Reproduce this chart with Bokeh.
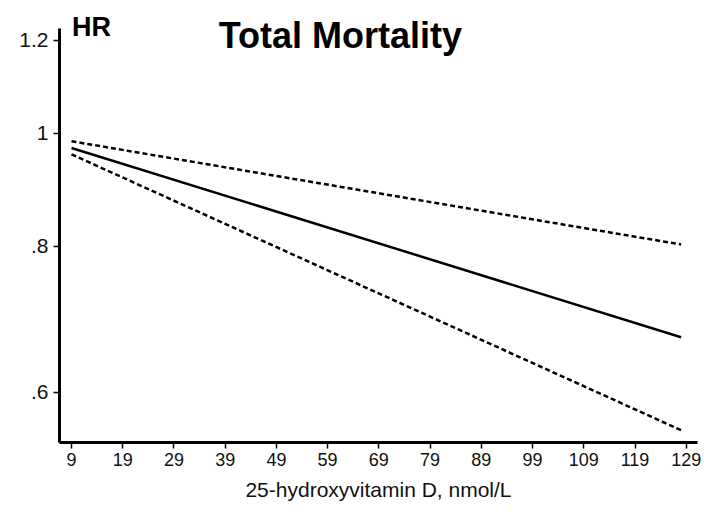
from bokeh.plotting import figure
from bokeh.models import Range1d, FixedTicker, Label
from bokeh.embed import file_html
from bokeh.resources import INLINE

# Data
vitd = [9, 128]
hr = [0.971, 0.669]
upper = [0.984, 0.803]
lower = [0.959, 0.557]

x_ticks = [9, 19, 29, 39, 49, 59, 69, 79, 89, 99, 109, 119, 129]
y_ticks = [0.6, 0.8, 1.0, 1.2]
y_tick_labels = [".6", ".8", "1", "1.2"]

FONT = "Liberation Sans"
Y_LO, Y_HI, Y_TOP = 0.5437, 1.229, 1.273

p = figure(width=704, height=513, output_backend="svg", toolbar_location=None,
           y_axis_type="log", title=None,
           x_range=Range1d(6.66, 131.2), y_range=Range1d(Y_LO, Y_TOP),
           min_border_left=59, min_border_right=7, min_border_top=10, min_border_bottom=71)
p.outline_line_color = None
p.grid.visible = False
p.background_fill_color = "white"
p.border_fill_color = "white"

p.line(vitd, hr, line_color="black", line_width=2.5)
p.line(vitd, upper, line_color="black", line_width=2.5, line_dash="5 3")
p.line(vitd, lower, line_color="black", line_width=2.5, line_dash="5 3")

for ax in (p.xaxis[0], p.yaxis[0]):
    ax.axis_line_width = 3
    ax.axis_line_color = "black"
    ax.major_tick_line_width = 1.5
    ax.major_tick_line_color = "black"
    ax.major_tick_in = 0
    ax.major_tick_out = 6
    ax.minor_tick_line_color = None
    ax.major_label_text_font = FONT
    ax.major_label_text_color = "#111111"

p.xaxis.major_label_text_font_size = "18px"
p.yaxis.major_label_text_font_size = "21px"

p.xaxis.ticker = FixedTicker(ticks=x_ticks)
p.xaxis.major_label_standoff = 4
p.xaxis.axis_label = "25-hydroxyvitamin D, nmol/L"
p.xaxis.axis_label_text_font = FONT
p.xaxis.axis_label_text_font_size = "21px"
p.xaxis.axis_label_text_font_style = "normal"
p.xaxis.axis_label_text_color = "#111111"
p.xaxis.axis_label_standoff = 9

p.yaxis.ticker = FixedTicker(ticks=y_ticks)
p.yaxis.bounds = (Y_LO, Y_HI)
p.yaxis.major_label_overrides = {t: l for t, l in zip(y_ticks, y_tick_labels)}
p.yaxis.major_label_standoff = 5

p.add_layout(Label(x=61.5, y=1.213, text="Total Mortality", text_font=FONT,
                   text_font_size="36px", text_font_style="bold", text_color="black",
                   text_align="center", text_baseline="middle"))
p.add_layout(Label(x=12.9, y=1.232, text="HR", text_font=FONT,
                   text_font_size="27px", text_font_style="bold", text_color="black",
                   text_align="center", text_baseline="middle"))

open("out.html", "w").write(file_html(p, INLINE))
